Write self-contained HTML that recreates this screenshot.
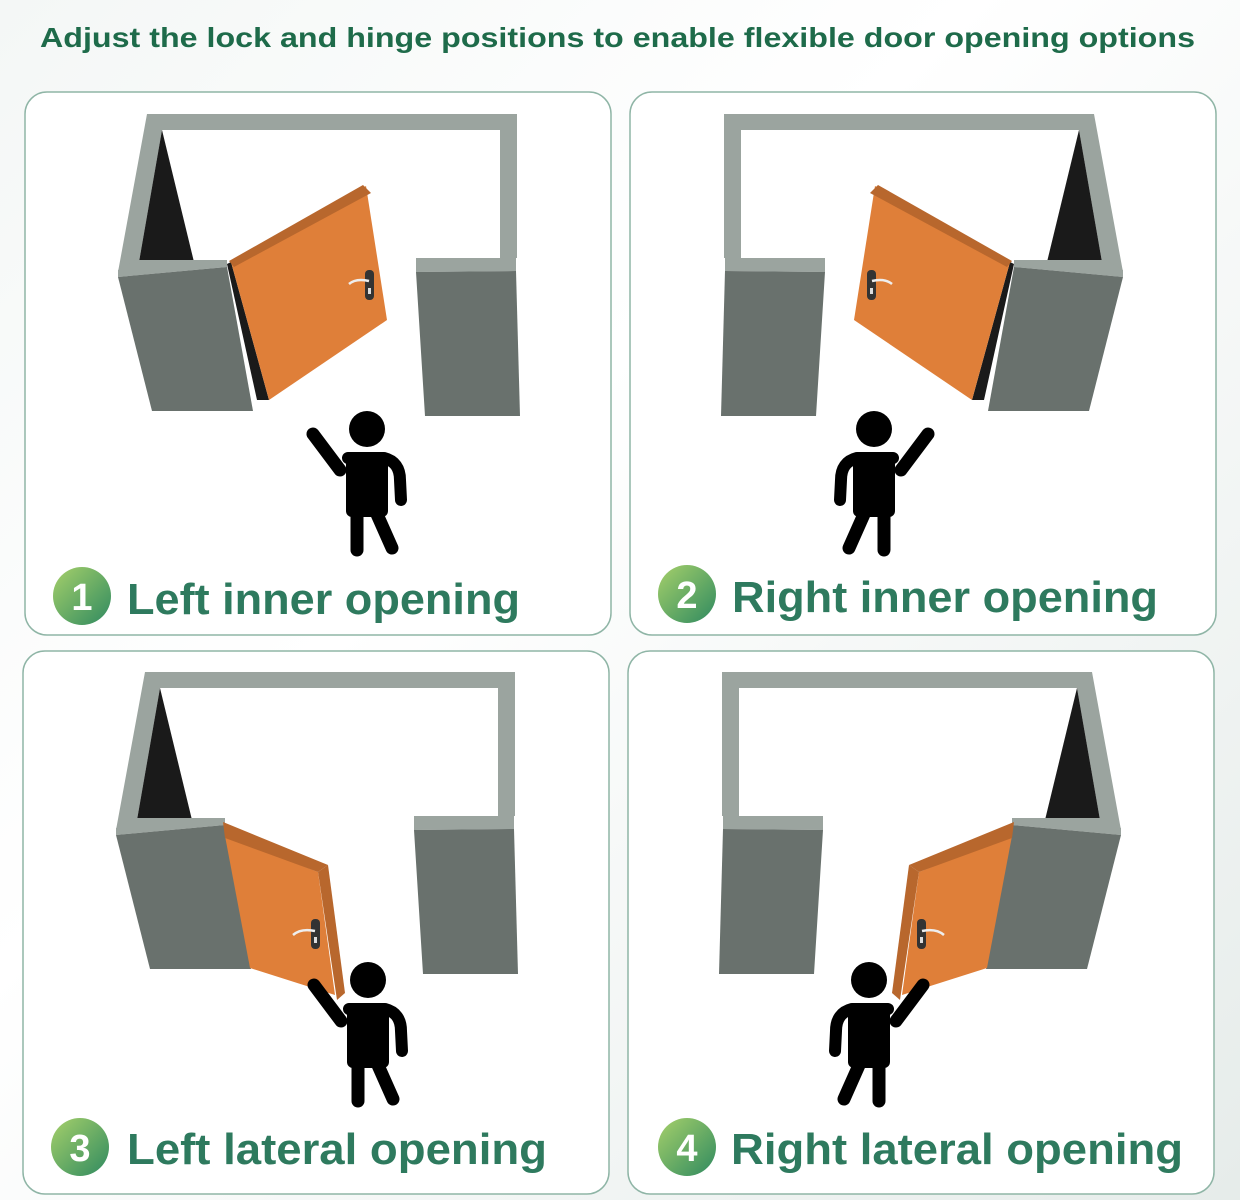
<!DOCTYPE html>
<html><head><meta charset="utf-8"><style>
html,body{margin:0;padding:0;width:1240px;height:1200px;overflow:hidden;background:linear-gradient(135deg,#f4f7f6 0%,#ffffff 40%,#e6ecea 100%);font-family:"Liberation Sans",sans-serif}
</style></head><body>
<svg width="1240" height="1200" viewBox="0 0 1240 1200" xmlns="http://www.w3.org/2000/svg">
<defs>
<linearGradient id="bg" x1="0" y1="0" x2="1" y2="1"><stop offset="0" stop-color="#a6d06a"/><stop offset="1" stop-color="#2f8a60"/></linearGradient>
<g id="walls">
  <path d="M147 114 L517 114 L517 258 L500 258 L500 130 L162 130 L139 262 L118 272 Z" fill="#9ba49f"/>
  <path d="M162 130 L139 262 L194 262 Z" fill="#1a1a1a"/>
  <path d="M118 270 L135 260 L227 260 L227 267 L118 277 Z" fill="#9ba49f"/>
  <path d="M118 277 L227 267 L253 411 L152 411 Z" fill="#69716d"/>
  <path d="M416 258 L516 258 L516 271 L416 272 Z" fill="#9ba49f"/>
  <path d="M416 272 L516 271 L520 416 L425 416 Z" fill="#69716d"/>
</g>
<g id="person">
  <circle cx="367" cy="429" r="18" fill="#000"/>
  <path d="M313 434 L340 470" stroke="#000" stroke-width="13" stroke-linecap="round" fill="none"/>
  <path d="M348 458 L384 458 Q400 462 400 480 L401 500" stroke="#000" stroke-width="12" stroke-linecap="round" stroke-linejoin="round" fill="none"/>
  <rect x="346" y="455" width="42" height="62" rx="6" fill="#000"/>
  <path d="M357 512 L357 550 M376 512 L392 548" stroke="#000" stroke-width="13" stroke-linecap="round" fill="none"/>
</g>
<g id="p1">
  <use href="#walls"/>
  <path d="M227 264 L231 262 L269 400 L257 400 Z" fill="#1a1a1a"/>
  <path d="M231 262 L366 186 L387 320 L269 400 Z" fill="#df7f39"/>
  <path d="M229 261 L363 185 L371 193 L234 267 Z" fill="#b8672d"/>
  <rect x="365" y="270" width="9" height="30" rx="4" fill="#333"/>
  <rect x="368" y="288" width="3" height="6" fill="#ddd"/>
  <path d="M369 281 Q356 278 349 284" stroke="#eee" stroke-width="2.5" fill="none"/>
</g>
<g id="p3">
  <use href="#walls" transform="translate(-2,558)"/>
  <path d="M225 836 L318 872 L335 995 L250 968 Z" fill="#df7f39"/>
  <path d="M223 822 L328 865 L318 872 L225 838 Z" fill="#b8672d"/>
  <path d="M328 865 L345 993 L337 1000 L318 872 Z" fill="#b8672d"/>
  <rect x="311" y="919" width="9" height="30" rx="4" fill="#333"/>
  <rect x="314" y="937" width="3" height="6" fill="#ddd"/>
  <path d="M315 931 Q301 928 293 935" stroke="#eee" stroke-width="2.5" fill="none"/>
</g>
</defs>
<text x="40" y="47" font-family="Liberation Sans, sans-serif" font-weight="bold" font-size="28" fill="#1e6b4a" textLength="1155" lengthAdjust="spacingAndGlyphs">Adjust the lock and hinge positions to enable flexible door opening options</text>
<rect x="25" y="92" width="586" height="543" rx="22" fill="#fff" stroke="#8fb5a6" stroke-width="1.5"/>
<rect x="630" y="92" width="586" height="543" rx="22" fill="#fff" stroke="#8fb5a6" stroke-width="1.5"/>
<rect x="23" y="651" width="586" height="543" rx="22" fill="#fff" stroke="#8fb5a6" stroke-width="1.5"/>
<rect x="628" y="651" width="586" height="543" rx="22" fill="#fff" stroke="#8fb5a6" stroke-width="1.5"/>
<use href="#p1"/>
<use href="#person"/>
<use href="#p1" transform="translate(1241,0) scale(-1,1)"/>
<use href="#person" transform="translate(1241,0) scale(-1,1)"/>
<use href="#p3"/>
<use href="#person" transform="translate(1,551)"/>
<use href="#p3" transform="translate(1237,0) scale(-1,1)"/>
<use href="#person" transform="translate(1236,551) scale(-1,1)"/>
<g font-family="Liberation Sans, sans-serif" font-weight="bold" fill="#2e7a5e" font-size="44">
<circle cx="82" cy="596" r="29" fill="url(#bg)"/><text x="82" y="610" font-size="38" fill="#fff" text-anchor="middle">1</text>
<text x="127" y="614" textLength="393" lengthAdjust="spacingAndGlyphs">Left inner opening</text>
<circle cx="687" cy="594" r="29" fill="url(#bg)"/><text x="687" y="608" font-size="38" fill="#fff" text-anchor="middle">2</text>
<text x="732" y="612" textLength="426" lengthAdjust="spacingAndGlyphs">Right inner opening</text>
<circle cx="80" cy="1147" r="29" fill="url(#bg)"/><text x="80" y="1161" font-size="38" fill="#fff" text-anchor="middle">3</text>
<text x="127" y="1164" textLength="420" lengthAdjust="spacingAndGlyphs">Left lateral opening</text>
<circle cx="687" cy="1147" r="29" fill="url(#bg)"/><text x="687" y="1161" font-size="38" fill="#fff" text-anchor="middle">4</text>
<text x="731" y="1164" textLength="452" lengthAdjust="spacingAndGlyphs">Right lateral opening</text>
</g>
</svg>
</body></html>
